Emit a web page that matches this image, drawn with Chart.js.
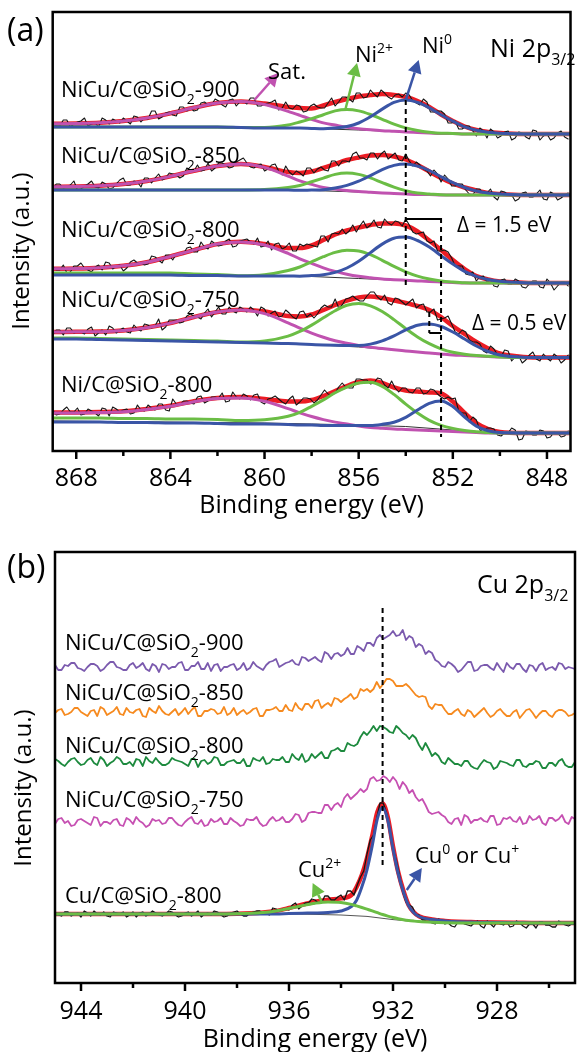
<!DOCTYPE html>
<html><head><meta charset="utf-8">
<script src="https://cdn.jsdelivr.net/npm/chart.js@4.4.0/dist/chart.umd.min.js"></script>
<style>
html,body{margin:0;padding:0;background:#fff;overflow:hidden;width:581px;height:1052px;}
#wa{position:absolute;left:0;top:0;width:581px;height:530px;}
#wb{position:absolute;left:0;top:530px;width:581px;height:540px;}
canvas{display:block;}
</style></head><body>
<div id="wa"><canvas id="ca" width="581" height="530" style="width:581px;height:530px"></canvas></div>
<div id="wb"><canvas id="cb" width="581" height="540" style="width:581px;height:540px"></canvas></div>
<script>
// ---------- Panel (a) : Ni 2p3/2 ----------
const ticksA = [868,864,860,856,852,848];
const minorTicksA = [866,862,858,854,850];
const fitEnergyA = [869,868,867,866,865,864,863,862,861,860,859,858.5,858,857.5,857,856.5,856,855.5,855,854.5,854,853.5,853,852.5,852,851.5,851,850.5,850,849,848,847];
const rawEnergyA = [869,868.7,868.4,868.1,867.8,867.5,867.2,866.9,866.6,866.3,866,865.7,865.4,865.1,864.8,864.5,864.2,863.9,863.6,863.3,863,862.7,862.4,862.1,861.8,861.5,861.2,860.9,860.6,860.3,860,859.7,859.4,859.1,858.8,858.5,858.2,857.9,857.6,857.3,857,856.7,856.4,856.1,855.8,855.5,855.2,854.9,854.6,854.3,854,853.7,853.4,853.1,852.8,852.5,852.2,851.9,851.6,851.3,851,850.7,850.4,850.1,849.8,849.5,849.2,848.9,848.6,848.3,848,847.7,847.4,847.1];
const midEnergyA = [868.85,868.55,868.25,867.95,867.65,867.35,867.05,866.75,866.45,866.15,865.85,865.55,865.25,864.95,864.65,864.35,864.05,863.75,863.45,863.15,862.85,862.55,862.25,861.95,861.65,861.35,861.05,860.75,860.45,860.15,859.85,859.55,859.25,858.95,858.65,858.35,858.05,857.75,857.45,857.15,856.85,856.55,856.25,855.95,855.65,855.35,855.05,854.75,854.45,854.15,853.85,853.55,853.25,852.95,852.65,852.35,852.05,851.75,851.45,851.15,850.85,850.55,850.25,849.95,849.65,849.35,849.05,848.75,848.45,848.15,847.85,847.55,847.25];
const baseEnergyA = [869,860,858,856,854,852,850,847];

const ni900Raw = [328,325,331,327,330,325,328,333,327,330,333,327,334,333,340,332,338,336,344,340,340,348,346,352,346,351,345,350,353,345,347,349,341,349,342,345,340,347,343,348,345,354,352,358,353,361,354,358,352,357,358,350,346,349,339,340,328,330,322,325,315,320,322,313,319,311,319,314,321,311,317,313,320,312];
const ni900RawMid = [325,331,324,329,333,327,324,331,332,328,330,335,329,332,340,334,339,335,344,343,341,349,346,350,344,352,349,347,353,345,348,351,343,343,346,339,345,344,343,353,349,354,349,358,354,357,361,354,356,354,356,348,352,339,340,337,328,322,325,320,323,313,319,315,320,313,318,312,320,315,311,318,314];
const ni900Fit = [327.2,327.5,328.2,330,333,337.6,343.2,348,349.5,347.5,344,343,342.5,345.5,349,352,354.5,356,357,356,354,350,344,336.5,330,324.5,321,319,318,317,317,317];
const ni900Sat = [327.2,327.5,328.2,329.9,333,337.6,343.2,347.9,349.5,346.5,339.6,335.7,331.6,328.1,325.9,323.8,322.3,321.2,320.3,319.7,319,318.5,318,317.5,317.5,317,317,317,317,317,317,317];
const ni900Ni2 = [324,324,324,324,324,324,324,324,323.6,323.6,326.1,329,332.4,336.3,340.1,341.4,340.1,336.5,331.7,326.9,323.1,320.5,318.8,317.8,317.6,317,317,317,317,317,317,317];
const ni900Ni0 = [324,324,324,324,324,324,324,324,323.5,323,323,323,322.6,322.3,323.1,324.5,328,334.2,341.9,348.6,351,348.6,343.2,336.2,329.9,324.2,320.7,318.7,317.7,317.1,317,317];
const ni900Base = [324,323,322.5,321,319,317.5,317,317];

const ni850Raw = [262,267,264,270,262,267,264,269,262,267,273,266,269,273,268,277,273,277,273,283,280,280,288,283,288,283,289,293,284,286,280,286,280,285,276,278,283,278,284,280,290,290,289,299,293,298,292,300,295,291,297,285,286,280,281,269,272,265,267,257,262,256,262,251,259,256,252,259,254,261,251,257,253,258];
const ni850RawMid = [267,263,266,261,265,270,263,267,263,271,266,270,264,273,273,271,278,276,275,281,286,281,280,288,286,284,291,288,283,287,282,287,276,279,280,275,283,282,281,290,285,290,297,293,291,298,297,292,298,290,290,289,282,275,277,276,265,267,261,256,262,258,254,260,256,250,258,254,257,252,259,251,256];
const ni850Fit = [264.2,264.5,265.2,266.9,270,274.6,280.2,284.9,287,284,279,278,279.5,283,287,291,293.5,295.5,296,294.5,291.5,286,279.5,273,267.5,263.5,260.5,258,257,256,256,256];
const ni850Sat = [264.2,264.5,265.2,266.9,270,274.6,280.2,284.9,287,283.6,274.9,270.1,266.6,263.5,261.9,260.4,259.4,258.7,258,257.5,257,256.5,256.5,256,256,256,256,256,256,256,256,256];
const ni850Ni2 = [261,261,261,261,261,261,261,261,261,261.4,263.5,265.5,269.2,272.9,276.6,277.9,276.6,273.1,268.4,263.9,260.4,258,257.1,256.2,256,256,256,256,256,256,256,256];
const ni850Ni0 = [261,261,261,261,261,261,261,261,261,261,261,260.7,261,261.3,263,265.6,269.8,275.4,281.3,285.6,287,284.9,280.5,274.2,268.3,263.5,260,258,256.9,256.1,256,256];
const ni850Base = [261,261,260.5,259,257,256,256,256];

const ni800Raw = [185,181,178,185,188,181,184,181,188,185,180,189,188,186,195,191,196,191,197,203,199,209,202,207,206,212,205,211,209,213,205,201,208,204,200,207,207,205,215,209,218,222,220,219,230,226,224,232,226,229,232,219,218,210,210,200,199,185,185,176,170,175,171,164,172,167,170,163,170,164,172,161,169,165];
const ni800RawMid = [181,186,179,185,183,179,186,189,182,186,183,191,188,187,194,188,196,197,197,204,199,204,210,205,210,204,210,212,207,204,210,207,202,208,200,205,206,204,215,217,217,217,226,225,223,231,223,228,230,225,226,217,219,208,200,201,193,185,177,179,174,169,165,171,167,172,164,167,170,163,168,165,169];
const ni800Fit = [182.3,182.5,183.3,185.2,188.8,194.5,200.9,206.9,209.2,207,203,203,205.5,211,216.5,220.5,223.5,226,227.5,227.5,225.5,219.5,210.5,201,191,182,175,171.5,169.5,168.3,168,168];
const ni800Sat = [182.3,182.5,183.3,185.2,188.8,194.5,200.9,206.9,209,206,197.6,192.2,187.6,183.2,179.6,176.8,174.7,173.3,172.1,171.3,170.7,170.1,169.5,169,168.5,168,168,168,168,168,168,168];
const ni800Ni2 = [178,178,178,178,178,178,177,176.5,175.2,176.3,180.5,184,189.2,194.3,198.6,200.7,200,196.3,190.7,184.6,179.2,174.9,172,170.1,169,168.2,168,168,168,168,168,168];
const ni800Ni0 = [176,176,176,176,176,176,175.5,175.5,175,175,175,174.8,175.4,176.3,178.6,183,189.8,198.4,206.9,212.8,213.9,210.5,203.9,195.4,186.9,179.6,174.7,171.5,169.7,168.3,168,168];
const ni800Base = [176,175,174.5,172.5,170.5,168.5,168,168];

const ni750Raw = [116,121,123,118,119,122,115,121,125,118,123,118,122,127,123,132,124,131,128,135,135,132,142,139,137,144,138,142,144,135,142,138,134,141,134,139,134,133,143,144,152,146,153,152,150,159,154,156,146,152,146,152,146,139,142,132,135,119,121,111,109,100,105,96,101,90,95,91,99,90,93,97,88,96];
const ni750RawMid = [121,116,123,119,117,124,118,116,123,121,119,126,120,126,125,121,131,131,129,137,134,138,134,144,137,140,144,139,141,144,135,140,135,138,132,140,137,137,146,144,143,152,155,150,155,159,151,148,153,149,149,143,147,139,131,133,127,117,119,109,107,98,102,94,100,94,88,96,92,97,90,94,91];
const ni750Fit = [119,119.2,119.4,120.5,123.5,128,134,139,141.2,139.5,135,134.5,136.5,141,146,150.5,153.5,154.5,153,150.5,148,145,141,134,125,117,109,102.5,97.5,94,93.5,93.5];
const ni750Sat = [119,119.2,119.3,120.4,123.3,127.9,133.9,139,141,137.4,128.2,122.8,117.9,113.7,110.3,107.9,105.6,103.8,102.4,101.2,100.1,99,98,97,96,95.5,95,94.5,94,93.5,93.5,93.5];
const ni750Ni2 = [113,113,112.5,112,111.5,111,110.5,110,108.9,110,114.9,119.6,125.9,133.2,140.3,145.7,147.4,145.2,139.5,131.4,122.4,114.1,107.3,102.2,98.7,96.8,95.5,94.7,94.1,93.5,93.5,93.5];
const ni750Ni0 = [112,112,111.5,111,110.5,110,109.5,109,108.5,108,107.5,107,106.5,106,105.7,105.6,105.6,106.9,110.1,115.1,121.1,125.8,127,124.5,119,112,105,99.5,96,93.8,93.5,93.5];
const ni750Base = [112,108,106.5,104,100,96,94,93.5];

const niC800Raw = [41,37,44,39,36,42,38,43,35,42,41,37,46,40,43,47,41,52,46,50,47,55,50,54,58,50,54,57,51,57,47,53,52,47,55,49,53,48,56,57,58,68,63,72,71,67,73,66,70,59,63,58,63,58,61,54,54,53,38,29,31,19,23,16,18,23,11,20,16,21,13,19,14,20];
const niC800RawMid = [36,41,39,43,37,40,35,42,44,39,42,38,41,46,41,47,40,47,50,48,54,48,54,53,49,59,52,55,56,49,52,55,49,52,46,53,52,51,61,56,64,64,63,72,71,68,72,63,63,63,59,63,57,62,57,52,52,40,38,34,21,23,22,15,18,21,12,19,16,20,14,18,15];
const niC800Fit = [38.5,38.6,39,39.7,42,45.2,49.8,53,54,52,49.5,49.5,51,55,60,65,69,70.5,68,63.5,60.5,59.5,58.5,57.5,49.5,38,28,22,19,18,18,18];
const niC800Sat = [38,38.1,38.5,39.2,41.5,44.7,49.3,52.5,53,49.7,42.3,38.2,34.5,31.4,28.9,27,25.1,23.6,22.8,22,21.5,21,20.5,20,19.5,19,18.5,18,18,18,18,18];
const niC800Ni2 = [33,33,33,32.5,32.5,32,32,31.5,30.5,31.2,34.7,38.7,44.7,51.1,58.3,63.9,68,68.7,64.7,56.6,46.9,38,30.7,25.7,22.6,20.6,19.2,18.5,18,18,18,18];
const niC800Ni0 = [29,29,29,28.5,28.5,28,28,27.5,27,27,26.5,26,26,25.5,25.5,25.5,25.6,25.6,26.7,28.8,33.6,41,47.7,50,44.5,34,24.9,20.3,18.4,18,18,18];
const niC800Base = [30,28,27,26,24.5,21,18,18];

const samplesA = ['NiCu/C@SiO_{2}-900','NiCu/C@SiO_{2}-850','NiCu/C@SiO_{2}-800','NiCu/C@SiO_{2}-750','Ni/C@SiO_{2}-800'];

// ---------- Panel (b) : Cu 2p3/2 ----------
const ticksB = [944,940,936,932,928];
const minorTicksB = [942,938,934,930,926];
const rawEnergyB = [945,944.75,944.5,944.25,944,943.75,943.5,943.25,943,942.75,942.5,942.25,942,941.75,941.5,941.25,941,940.75,940.5,940.25,940,939.75,939.5,939.25,939,938.75,938.5,938.25,938,937.75,937.5,937.25,937,936.75,936.5,936.25,936,935.75,935.5,935.25,935,934.75,934.5,934.25,934,933.75,933.5,933.25,933,932.75,932.5,932.25,932,931.75,931.5,931.25,931,930.75,930.5,930.25,930,929.75,929.5,929.25,929,928.75,928.5,928.25,928,927.75,927.5,927.25,927,926.75,926.5,926.25,926,925.75,925.5,925.25,925];
const midEnergyB = [944.875,944.625,944.375,944.125,943.875,943.625,943.375,943.125,942.875,942.625,942.375,942.125,941.875,941.625,941.375,941.125,940.875,940.625,940.375,940.125,939.875,939.625,939.375,939.125,938.875,938.625,938.375,938.125,937.875,937.625,937.375,937.125,936.875,936.625,936.375,936.125,935.875,935.625,935.375,935.125,934.875,934.625,934.375,934.125,933.875,933.625,933.375,933.125,932.875,932.625,932.375,932.125,931.875,931.625,931.375,931.125,930.875,930.625,930.375,930.125,929.875,929.625,929.375,929.125,928.875,928.625,928.375,928.125,927.875,927.625,927.375,927.125,926.875,926.625,926.375,926.125,925.875,925.625,925.375,925.125];
const fitEnergyB = [945,944,943,942,941,940,939,938,937,936.5,936,935.5,935,934.5,934,933.6,933.4,933.2,933,932.8,932.6,932.4,932.2,932,931.8,931.6,931.4,931.2,931,930.5,930,929.5,929,928,927,926,925];
const baseEnergyB = [945,936,935,934,933,932,931,930,925];

const cu900Raw = [318,313,317,320,314,316,319,312,318,321,315,313,320,317,314,319,311,318,316,320,313,317,321,314,312,319,316,318,313,320,315,317,313,321,324,318,321,319,326,322,326,321,329,329,327,335,329,335,340,337,348,346,352,348,343,345,339,329,330,321,316,319,311,317,321,313,318,315,320,311,316,319,314,318,312,320,315,313,319,316,314];
const cu900RawMid = [313,318,320,315,312,319,317,314,321,316,313,318,315,320,312,317,319,314,316,321,313,317,314,320,318,312,316,319,315,313,321,315,318,322,316,320,323,318,325,324,323,331,324,330,329,329,337,332,340,345,344,348,347,353,347,336,337,332,323,317,321,316,313,321,312,317,318,313,315,320,314,319,311,317,318,313,316,320,314,315];
const cu850Raw = [270,274,269,275,271,267,273,276,268,272,269,275,270,274,266,272,277,269,271,268,275,273,267,272,274,269,276,270,268,273,271,275,267,273,276,272,273,280,273,279,282,275,280,285,281,286,284,294,294,294,295,304,302,297,299,292,286,286,274,278,273,269,274,267,271,269,275,266,272,270,267,273,269,274,265,272,268,271,273,267,270];
const cu850RawMid = [273,268,271,275,269,272,267,274,270,276,268,271,273,267,275,270,272,268,274,271,269,276,267,272,273,270,268,275,271,269,274,267,273,274,272,278,272,275,279,275,283,278,277,284,284,289,286,292,291,301,299,304,297,297,296,288,287,277,279,278,269,272,269,273,266,272,270,268,274,267,271,265,273,270,269,272,266,273,271,268];
const cu800Raw = [224,219,221,225,218,223,220,226,217,222,224,219,217,223,226,220,221,218,225,222,219,224,216,223,221,225,218,222,220,224,217,223,226,220,223,226,221,225,229,223,225,231,225,233,232,240,237,246,248,257,257,254,250,254,248,248,238,240,227,227,219,222,219,222,217,214,223,220,216,221,218,223,217,219,222,215,220,217,224,216,221];
const cu800RawMid = [222,217,224,221,219,225,218,223,220,226,219,221,224,217,222,225,218,220,223,221,217,224,222,219,226,218,221,223,220,217,225,222,219,224,223,221,229,223,221,229,228,225,232,235,232,238,239,251,252,252,256,251,257,250,244,245,233,234,230,221,225,219,217,222,215,219,221,214,222,220,217,223,216,219,221,215,220,222,218,216];
const cu750Raw = [159,165,162,158,164,160,166,157,161,163,158,165,159,162,156,164,163,160,165,158,161,166,159,157,164,162,159,165,160,158,163,166,157,163,162,166,161,169,161,170,171,170,178,178,176,189,187,194,194,206,203,205,206,194,197,193,182,178,169,171,166,159,165,168,160,163,162,167,158,165,166,161,159,167,164,160,165,162,168,159,164];
const cu750RawMid = [164,160,157,163,162,158,165,161,159,164,157,163,166,160,158,162,159,165,161,157,164,160,163,158,161,165,159,162,157,164,163,160,158,166,163,161,164,168,163,171,170,178,173,180,185,184,190,191,204,202,207,201,202,201,190,186,184,171,170,168,161,164,158,166,163,165,161,167,159,164,162,166,160,163,167,158,165,164,161,166];
const cuC800Raw = [70,67,71,69,66,70,72,68,67,71,69,66,71,70,67,72,68,69,71,66,70,67,72,69,68,71,66,70,72,67,70,72,70,68,74,74,73,80,77,80,83,80,87,83,88,92,88,106,129,148,180,170,134,108,81,76,68,63,60,64,59,57,61,59,57,62,55,59,61,58,56,62,57,59,55,61,58,56,60,57,59];
const cuC800RawMid = [68,71,67,70,72,67,69,71,66,70,71,68,66,71,69,70,67,72,68,67,71,69,66,70,72,68,67,71,69,67,71,72,69,75,72,74,78,74,80,84,80,87,83,86,83,92,98,112,143,165,180,154,123,91,78,68,63,64,59,63,60,56,61,58,60,57,62,56,59,61,57,60,55,59,61,58,56,62,58,59];
const cuC800Fit = [69,69,69,69,69,69,69,69.2,70.5,72.1,75,78.3,81.2,83.3,84.6,88,96,108,125,147,171,179.5,165.7,136.5,110.9,92.2,78,70.8,66.8,63.5,62,61.2,60.9,60.4,60.2,60,60];
const cuC800Cu0 = [69,69,69,69,69,69,69,69,69,69,69.5,69.8,70,70.5,72,76.5,82.8,95.9,113.2,137.1,164.3,175.8,162.9,134.4,109.4,91.2,77.3,70.3,66.5,63.4,62,61.2,60.9,60.4,60.2,60,60];
const cuC800Cu2 = [69,69,69,69,69,69,69,69.2,70.5,72.1,74.5,77.3,79.8,81.1,80.6,78.6,77.1,75.5,73.8,72.1,70.3,68.5,66.9,65.5,64.3,63.3,62.5,61.9,61.4,60.7,60.3,60.1,60,60,60,60,60];
const cuC800Base = [69,69,68.6,68,66.6,63.4,61.1,60.3,60];

const samplesB = ['NiCu/C@SiO_{2}-900','NiCu/C@SiO_{2}-850','NiCu/C@SiO_{2}-800','NiCu/C@SiO_{2}-750','Cu/C@SiO_{2}-800'];

// ---------- styling ----------
const FONT = '"Open Sans", "DejaVu Sans", sans-serif';
const RED = '#ec1c24', MAG = '#c052b0', GRN = '#6bbd45', BLU = '#3a55a6', RAW = '#151515';
const PUR = '#7b5aae', ORA = '#f68a1f', DGR = '#1d8a3e', PNK = '#c650b2';

function pts(xs, ys) { return xs.map((x, i) => ({x: x, y: ys[i]})); }
function merged(xs1, ys1, xs2, ys2) { return pts(xs1, ys1).concat(pts(xs2, ys2)).sort((a, b) => b.x - a.x); }
function line(data, color, width, order, smooth) {
  return {
    data: data, borderColor: color, borderWidth: width, pointRadius: 0, fill: false, order: order,
    tension: 0, cubicInterpolationMode: smooth ? 'monotone' : 'default',
    borderJoinStyle: 'round', borderCapStyle: 'round'
  };
}

function drawRich(ctx, x, y, str, size) {
  const parts = str.split(/(_\{[^}]*\}|\^\{[^}]*\})/).filter(s => s.length);
  let cx = x;
  for (const p of parts) {
    let t = p, s = size, dy = 0;
    if (p.startsWith('_{')) { t = p.slice(2, -1); s = Math.round(size * 0.62); dy = size * 0.3; }
    else if (p.startsWith('^{')) { t = p.slice(2, -1); s = Math.round(size * 0.62); dy = -size * 0.42; }
    ctx.font = s + 'px ' + FONT;
    ctx.fillText(t, cx, y + dy);
    cx += ctx.measureText(t).width;
  }
}

function makeDecor(cfg) {
  return {
    id: 'decor',
    afterDraw(chart) {
      const ctx = chart.ctx, a = chart.chartArea, xs = chart.scales.x, ys = chart.scales.y;
      const P = (e, v) => [xs.getPixelForValue(e), ys.getPixelForValue(v)];
      ctx.save();
      ctx.strokeStyle = '#000'; ctx.lineWidth = 2; ctx.setLineDash([5, 4]);
      for (const d of cfg.dashes) {
        const p1 = P(d[0], d[1]), p2 = P(d[0], d[2]);
        ctx.beginPath(); ctx.moveTo(p1[0], p1[1]); ctx.lineTo(p2[0], p2[1]); ctx.stroke();
      }
      ctx.setLineDash([]);
      for (const l of cfg.lines) {
        const p1 = P(l[0], l[1]), p2 = P(l[2], l[3]);
        ctx.beginPath(); ctx.moveTo(p1[0], p1[1]); ctx.lineTo(p2[0], p2[1]); ctx.stroke();
      }
      for (const ar of cfg.arrows) {
        const p1 = P(ar.from[0], ar.from[1]), p2 = P(ar.to[0], ar.to[1]);
        const ang = Math.atan2(p2[1] - p1[1], p2[0] - p1[0]);
        const hl = 13, hw = 7;
        const bx = p2[0] - hl * Math.cos(ang), by = p2[1] - hl * Math.sin(ang);
        ctx.strokeStyle = ar.color; ctx.fillStyle = ar.color; ctx.lineWidth = 2.5;
        ctx.beginPath(); ctx.moveTo(p1[0], p1[1]); ctx.lineTo(bx, by); ctx.stroke();
        ctx.beginPath();
        ctx.moveTo(p2[0], p2[1]);
        ctx.lineTo(bx + hw * Math.sin(ang), by - hw * Math.cos(ang));
        ctx.lineTo(bx - hw * Math.sin(ang), by + hw * Math.cos(ang));
        ctx.closePath(); ctx.fill();
      }
      ctx.strokeStyle = '#000'; ctx.lineWidth = 2.5;
      ctx.strokeRect(a.left, a.top, a.right - a.left, a.bottom - a.top);
      for (const v of cfg.major) { const x = xs.getPixelForValue(v); ctx.beginPath(); ctx.moveTo(x, a.bottom); ctx.lineTo(x, a.bottom + 8); ctx.stroke(); }
      for (const v of cfg.minor) { const x = xs.getPixelForValue(v); ctx.beginPath(); ctx.moveTo(x, a.bottom); ctx.lineTo(x, a.bottom + 5); ctx.stroke(); }
      ctx.fillStyle = '#000'; ctx.textAlign = 'left'; ctx.textBaseline = 'alphabetic';
      for (const t of cfg.texts) drawRich(ctx, t[0], t[1], t[2], t[3]);
      ctx.save();
      ctx.translate(cfg.yTitle[0], cfg.yTitle[1]); ctx.rotate(-Math.PI / 2);
      ctx.font = '24px ' + FONT; ctx.textAlign = 'center'; ctx.textBaseline = 'middle';
      ctx.fillText('Intensity (a.u.)', 0, 0);
      ctx.restore();
      ctx.restore();
    }
  };
}

function makeOptions(xmin, xmax, ymax, ticks, padTop, padRight, yWidth, xHeight, tickPad, titlePad) {
  return {
    responsive: false, animation: false, devicePixelRatio: 1,
    layout: {padding: {top: padTop, right: padRight, left: 0, bottom: 0}},
    plugins: {legend: {display: false}, tooltip: {enabled: false}},
    elements: {point: {radius: 0}},
    scales: {
      x: {
        type: 'linear', reverse: true, min: xmin, max: xmax,
        grid: {display: false, drawTicks: false}, border: {display: false},
        ticks: {color: '#000', font: {family: FONT, size: 25}, padding: tickPad, maxRotation: 0, autoSkip: false},
        afterBuildTicks: s => { s.ticks = ticks.map(v => ({value: v})); },
        afterFit: s => { s.height = xHeight; },
        title: {display: true, text: 'Binding energy (eV)', color: '#000', font: {family: FONT, size: 25}, padding: {top: 0, bottom: titlePad}}
      },
      y: {
        type: 'linear', min: 0, max: ymax, display: true,
        ticks: {display: false}, grid: {display: false, drawTicks: false}, border: {display: false},
        afterFit: s => { s.width = yWidth; }
      }
    }
  };
}

// ---- chart A ----
const specA = [
  [ni900Raw, ni900RawMid, ni900Fit, ni900Sat, ni900Ni2, ni900Ni0, ni900Base],
  [ni850Raw, ni850RawMid, ni850Fit, ni850Sat, ni850Ni2, ni850Ni0, ni850Base],
  [ni800Raw, ni800RawMid, ni800Fit, ni800Sat, ni800Ni2, ni800Ni0, ni800Base],
  [ni750Raw, ni750RawMid, ni750Fit, ni750Sat, ni750Ni2, ni750Ni0, ni750Base],
  [niC800Raw, niC800RawMid, niC800Fit, niC800Sat, niC800Ni2, niC800Ni0, niC800Base]
];
const dsA = [];
for (const s of specA) {
  dsA.push(line(pts(baseEnergyA, s[6]), '#333', 1, 7, false));
  dsA.push(line(pts(fitEnergyA, s[2]), RED, 4.5, 6, true));
  dsA.push(line(merged(rawEnergyA, s[0], midEnergyA, s[1]), RAW, 1.1, 5, false));
  dsA.push(line(pts(fitEnergyA, s[3]), MAG, 3, 4, true));
  dsA.push(line(pts(fitEnergyA, s[4]), GRN, 3, 3, true));
  dsA.push(line(pts(fitEnergyA, s[5]), BLU, 3, 2, true));
}
const decorA = makeDecor({
  major: ticksA, minor: minorTicksA,
  dashes: [[854.0, 351, 164], [852.5, 233, 14], [853.0, 139, 118]],
  lines: [[854.0, 232, 852.5, 232], [853.0, 118, 852.5, 118]],
  arrows: [
    {from: [860.43, 351], to: [859.42, 378], color: MAG},
    {from: [856.57, 341], to: [856.07, 388], color: GRN},
    {from: [854.0, 351], to: [853.45, 391], color: BLU}
  ],
  texts: [
    [7, 41, '(a)', 32],
    [61, 97, samplesA[0], 22], [61, 163, samplesA[1], 22], [61, 237, samplesA[2], 22],
    [61, 307, samplesA[3], 22], [61, 392, samplesA[4], 22],
    [268, 79, 'Sat.', 22], [355, 62, 'Ni^{2+}', 22], [422, 53, 'Ni^{0}', 22],
    [490, 57, 'Ni 2p_{3/2}', 25],
    [457, 232, '\u0394 = 1.5 eV', 21], [472, 330, '\u0394 = 0.5 eV', 21]
  ],
  yTitle: [22, 251]
});
new Chart(document.getElementById('ca'), {
  type: 'line', data: {datasets: dsA},
  options: makeOptions(847, 869, 439, ticksA, 12, 2, 52.7, 79, 12.5, 9),
  plugins: [decorA]
});

// ---- chart B ----
const dsB = [
  line(merged(rawEnergyB, cu900Raw, midEnergyB, cu900RawMid), PUR, 1.8, 6, false),
  line(merged(rawEnergyB, cu850Raw, midEnergyB, cu850RawMid), ORA, 1.8, 6, false),
  line(merged(rawEnergyB, cu800Raw, midEnergyB, cu800RawMid), DGR, 1.8, 6, false),
  line(merged(rawEnergyB, cu750Raw, midEnergyB, cu750RawMid), PNK, 1.8, 6, false),
  line(pts(baseEnergyB, cuC800Base), '#555', 1, 8, false),
  line(pts(fitEnergyB, cuC800Fit), RED, 4.5, 7, true),
  line(merged(rawEnergyB, cuC800Raw, midEnergyB, cuC800RawMid), RAW, 1.3, 5, false),
  line(pts(fitEnergyB, cuC800Cu0), BLU, 3, 3, true),
  line(pts(fitEnergyB, cuC800Cu2), GRN, 3, 2, true)
];
const decorB = makeDecor({
  major: ticksB, minor: minorTicksB,
  dashes: [[932.4, 375, 115]],
  lines: [],
  arrows: [
    {from: [934.74, 81], to: [935.09, 100], color: GRN},
    {from: [931.47, 93], to: [930.89, 115], color: BLU}
  ],
  texts: [
    [7, 48, '(b)', 32],
    [65, 120, samplesB[0], 22], [65, 170, samplesB[1], 22], [65, 223, samplesB[2], 22],
    [65, 277, samplesB[3], 22], [65, 373, samplesB[4], 22],
    [298, 347, 'Cu^{2+}', 22], [415, 333, 'Cu^{0} or Cu^{+}', 22],
    [477, 63, 'Cu 2p_{3/2}', 25]
  ],
  yTitle: [24, 258]
});
new Chart(document.getElementById('cb'), {
  type: 'line', data: {datasets: dsB},
  options: makeOptions(925, 945, 431, ticksB, 22, 6, 55, 87, 13.5, 15),
  plugins: [decorB]
});
</script>
</body></html>
